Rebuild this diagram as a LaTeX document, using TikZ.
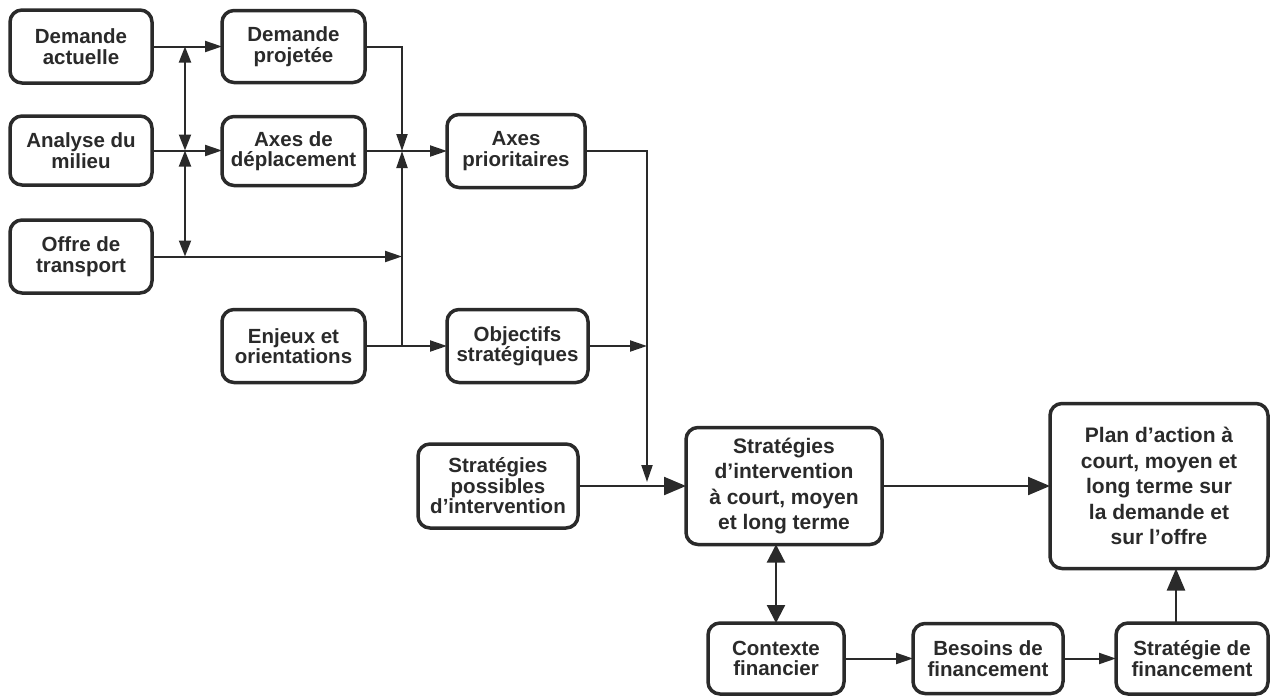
\documentclass[tikz,border=0pt]{standalone}
\usepackage{fontspec}
\setmainfont{Liberation Sans}
\usetikzlibrary{positioning,arrows.meta,calc}
\definecolor{ink}{HTML}{2A2A2A}
\begin{document}
\begin{tikzpicture}[x=1pt,y=-1pt,
    box/.style={draw=ink, text=ink, line width=3.5pt, rounded corners=12pt, align=center,
      inner sep=1pt, outer sep=0pt, font=\fontsize{20.5}{20.5}\selectfont\bfseries},
    bigbox/.style={box, font=\fontsize{21}{25.5}\selectfont\bfseries},
    arr/.style={draw=ink, line width=2pt, -{Triangle[length=17pt,width=11pt]}},
    dbl/.style={draw=ink, line width=2pt, {Triangle[length=16pt,width=12pt]}-{Triangle[length=16pt,width=12pt]}},
    bigarr/.style={draw=ink, line width=2.2pt, -{Triangle[length=22pt,width=18pt]}},
    bigdbl/.style={draw=ink, line width=2.2pt, {Triangle[length=18pt,width=18pt]}-{Triangle[length=18pt,width=18pt]}}]
    \useasboundingbox (0,0) rectangle (1274,696);
      \node[box, minimum width=142pt, minimum height=73pt] (dact) at (81,46.5) {Demande\\actuelle};
      \node[box, minimum width=143pt, minimum height=72pt, right=70pt of dact] (dproj) {Demande\\projetée};
      \node[box, minimum width=142pt, minimum height=69pt, below=33pt of dact] (anal) {Analyse du\\milieu};
      \node[box, minimum width=143pt, minimum height=69pt, below=34pt of dproj] (axdep) {Axes de\\déplacement};
      \node[box, minimum width=138pt, minimum height=73pt, right=82pt of axdep] (axprio) {Axes\\prioritaires};
      \node[box, minimum width=142pt, minimum height=73pt, below=35pt of anal] (offre) {Offre de\\transport};
      \node[box, minimum width=143pt, minimum height=73pt, below=124pt of axdep] (enjeux) {Enjeux et\\orientations};
      \node[box, minimum width=141pt, minimum height=73pt, right=82pt of enjeux] (objstr) {Objectifs\\stratégiques};
      \node[box, minimum width=160pt, minimum height=84pt] (stratposs) at (498,486) {Stratégies\\possibles\\d'intervention};
      \node[bigbox, minimum width=196pt, minimum height=117pt, right=108pt of stratposs] (strint) {Stratégies\\d'intervention\\à court, moyen\\et long terme};
      \node[bigbox, minimum width=218pt, minimum height=165pt, right=168pt of strint] (plan) {Plan d'action à\\court, moyen et\\long terme sur\\la demande et\\sur l'offre};
      \node[box, minimum width=136pt, minimum height=71pt] (contexte) at (776,658.5) {Contexte\\financier};
      \node[box, minimum width=150pt, minimum height=70pt, right=69pt of contexte] (besoins) {Besoins de\\financement};
      \node[box, minimum width=152pt, minimum height=71pt, right=53pt of besoins] (stratfin) {Stratégie de\\financement};
      \coordinate[right=33pt of dact.east] (j1);
      \coordinate (j2) at (j1 |- anal.east);
      \coordinate (j3) at (j1 |- offre.east);
      \coordinate[right=37pt of dproj.east] (k1);
      \coordinate[right=62pt of axprio.east] (m1);
      \coordinate[left=16pt of stratfin.north] (s1);
      \draw[arr] (dact) -- (dproj);
      \draw[arr] (anal.east) -- (anal.east -| axdep.west);
      \draw[dbl] (j1) -- (j2);
      \draw[dbl] (j2) -- (j3);
      \draw[arr] (offre.east) -- (offre.east -| k1);
      \draw[arr] (dproj.east) -- (k1) -- (k1 |- axdep.east);
      \draw[arr] (enjeux.east -| k1) -- (k1 |- axdep.east);
      \draw[arr] (axdep) -- (axprio);
      \draw[arr] (enjeux) -- (objstr);
      \draw[arr] (objstr.east) -- (objstr.east -| m1);
      \draw[arr, shorten >=4pt] (axprio.east) -- (m1) -- (m1 |- stratposs.east);
      \draw[bigarr] (stratposs) -- (strint);
      \draw[bigarr] (strint) -- (plan);
      \draw[bigdbl] (contexte.north |- strint.south) -- (contexte.north);
      \draw[arr] (contexte) -- (besoins);
      \draw[arr] (besoins) -- (stratfin);
      \draw[bigarr] (s1) -- (s1 |- plan.south);
\end{tikzpicture}
\end{document}
